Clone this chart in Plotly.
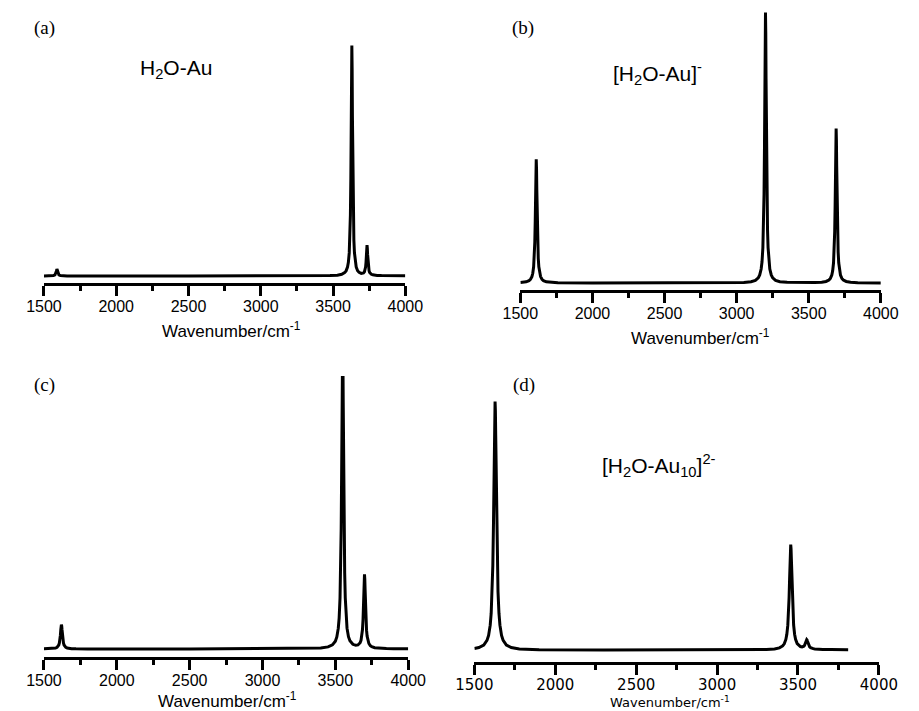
import plotly.graph_objects as go

# ---------------- data ----------------
a_wavenumber = [1500, 1520, 1550, 1566, 1576, 1583, 1586, 1590, 1594, 1597, 1604, 1614, 1630, 1660,
                2500, 3300, 3480, 3530, 3560, 3580, 3590, 3600, 3606, 3612, 3616, 3620, 3623, 3626,
                3628, 3630, 3632, 3634, 3637, 3640, 3644, 3648, 3654, 3660, 3670, 3680, 3695, 3705,
                3711, 3717, 3721, 3725, 3728, 3731, 3733, 3735, 3737, 3739, 3742, 3745, 3749, 3753,
                3759, 3765, 3775, 3785, 3805, 3835, 3885, 4000]
a_intensity = [0.0001, 0.0002, 0.0007, 0.0018, 0.0047, 0.0127, 0.0208, 0.03, 0.0208, 0.0127, 0.0047, 0.0018, 0.0007, 0.0002,
               0.0, 0.0003, 0.0017, 0.0037, 0.0075, 0.0144, 0.0222, 0.0388, 0.0591, 0.1003, 0.155, 0.265, 0.424, 0.692,
               0.9, 1.0, 0.9, 0.692, 0.424, 0.266, 0.156, 0.101, 0.0595, 0.0393, 0.0231, 0.0157, 0.0114, 0.0114,
               0.0132, 0.0178, 0.0246, 0.0387, 0.0592, 0.0942, 0.1213, 0.1343, 0.1211, 0.0938, 0.0585, 0.0376, 0.0231, 0.0157,
               0.0102, 0.0073, 0.005, 0.0039, 0.0027, 0.002, 0.0013, 0.0006]

b_wavenumber = [1500, 1540, 1560, 1570, 1580, 1586, 1592, 1596, 1600, 1603, 1606, 1608, 1610, 1612,
                1614, 1617, 1620, 1624, 1628, 1634, 1640, 1650, 1660, 1680, 1710, 1760, 2000, 2500,
                2900, 3050, 3100, 3130, 3150, 3160, 3170, 3176, 3182, 3186, 3190, 3193, 3196, 3198,
                3200, 3202, 3204, 3207, 3210, 3214, 3218, 3224, 3230, 3240, 3250, 3270, 3300, 3350,
                3450, 3540, 3590, 3620, 3640, 3650, 3660, 3666, 3672, 3676, 3680, 3683, 3686, 3688,
                3690, 3692, 3694, 3697, 3700, 3704, 3708, 3714, 3720, 3730, 3740, 3760, 3790, 3840,
                3920, 4000]
b_intensity = [0.0018, 0.0045, 0.0088, 0.0136, 0.0236, 0.0358, 0.0599, 0.0914, 0.150, 0.2285, 0.3446, 0.4227, 0.457, 0.4227,
               0.3446, 0.2285, 0.150, 0.0914, 0.0599, 0.0358, 0.0236, 0.0136, 0.0088, 0.0045, 0.0022, 0.001, 0.0002, 0.0001,
               0.0005, 0.0022, 0.0049, 0.0099, 0.0192, 0.0297, 0.0516, 0.0784, 0.131, 0.2, 0.329, 0.5, 0.754, 0.925,
               1.0, 0.925, 0.754, 0.5, 0.329, 0.2, 0.131, 0.0784, 0.0516, 0.0297, 0.0192, 0.0099, 0.005, 0.0025,
               0.0013, 0.0017, 0.0031, 0.0057, 0.011, 0.017, 0.0295, 0.0448, 0.0748, 0.1142, 0.1879, 0.2855, 0.4305, 0.5282,
               0.571, 0.5282, 0.4305, 0.2855, 0.1879, 0.1142, 0.0748, 0.0448, 0.0295, 0.017, 0.011, 0.0057, 0.0028, 0.0013,
               0.0005, 0.0003]

c_wavenumber = [1500, 1550, 1570, 1580, 1590, 1596, 1602, 1606, 1610, 1613, 1616, 1618, 1620, 1622,
                1624, 1627, 1630, 1634, 1638, 1644, 1650, 1660, 1670, 1690, 1720, 1800, 2500, 3200,
                3400, 3450, 3480, 3500, 3510, 3520, 3526, 3532, 3536, 3540, 3543, 3546, 3548, 3550,
                3552, 3554, 3557, 3560, 3564, 3568, 3574, 3580, 3590, 3600, 3620, 3640, 3655, 3665,
                3670, 3676, 3682, 3686, 3690, 3693, 3696, 3698, 3700, 3702, 3704, 3707, 3710, 3714,
                3718, 3724, 3730, 3740, 3750, 3770, 3800, 3850, 3900, 4000]
c_intensity = [0.0005, 0.0012, 0.0023, 0.0035, 0.006, 0.0091, 0.015, 0.0224, 0.0355, 0.0515, 0.0728, 0.0856, 0.091, 0.0856,
               0.0728, 0.0515, 0.0355, 0.0224, 0.015, 0.0091, 0.006, 0.0035, 0.0023, 0.0012, 0.0006, 0.0002, 0.0001, 0.0006,
               0.0034, 0.0078, 0.0153, 0.0292, 0.0448, 0.0769, 0.1155, 0.19, 0.283, 0.4485, 0.651, 0.92, 1.082, 1.15,
               1.082, 0.92, 0.651, 0.449, 0.284, 0.191, 0.116, 0.0776, 0.0458, 0.0306, 0.0175, 0.0138, 0.0151, 0.0192,
               0.0234, 0.0321, 0.0496, 0.0717, 0.111, 0.1593, 0.2235, 0.2622, 0.2783, 0.2619, 0.2231, 0.1587, 0.1102, 0.0704,
               0.048, 0.03, 0.0206, 0.0127, 0.0087, 0.005, 0.003, 0.0016, 0.0011, 0.0006]

d_wavenumber = [1500, 1528, 1558, 1578, 1588, 1598, 1604, 1610, 1614, 1618, 1621, 1624, 1626, 1628,
                1630, 1632, 1635, 1638, 1642, 1646, 1652, 1658, 1668, 1678, 1698, 1728, 1778, 1900,
                2300, 2900, 3200, 3305, 3355, 3385, 3405, 3415, 3425, 3431, 3437, 3441, 3445, 3448,
                3451, 3453, 3455, 3457, 3459, 3462, 3465, 3469, 3473, 3479, 3485, 3495, 3505, 3515,
                3525, 3530, 3536, 3540, 3544, 3547, 3550, 3552, 3554, 3556, 3558, 3561, 3564, 3568,
                3572, 3578, 3584, 3594, 3604, 3624, 3654, 3704, 3810]
d_intensity = [0.0061, 0.0099, 0.02, 0.0385, 0.0588, 0.1, 0.148, 0.236, 0.338, 0.5, 0.671, 0.862, 0.962, 1.0,
               0.962, 0.862, 0.671, 0.5, 0.338, 0.236, 0.148, 0.1, 0.0588, 0.0385, 0.02, 0.0099, 0.0044, 0.0013,
               0.0002, 0.0002, 0.0006, 0.0019, 0.0042, 0.0085, 0.0163, 0.0249, 0.0424, 0.0628, 0.1, 0.1433, 0.212, 0.2845,
               0.3655, 0.4079, 0.4244, 0.408, 0.3656, 0.2847, 0.2123, 0.1437, 0.1005, 0.0634, 0.0432, 0.026, 0.0178, 0.0138,
               0.0124, 0.0129, 0.0151, 0.0183, 0.0238, 0.0299, 0.0368, 0.0404, 0.0417, 0.0402, 0.0364, 0.0292, 0.0228, 0.0167,
               0.0127, 0.0093, 0.0073, 0.0055, 0.0044, 0.0032, 0.0023, 0.0016, 0.0009]

tick_values = [1500, 2000, 2500, 3000, 3500, 4000]
tick_labels = ["1500", "2000", "2500", "3000", "3500", "4000"]
panel_letters = ["(a)", "(b)", "(c)", "(d)"]
species = ["H<sub>2</sub>O-Au", "[H<sub>2</sub>O-Au]<sup>-</sup>", None,
           "[H<sub>2</sub>O-Au<sub>10</sub>]<sup>2-</sup>"]
x_title = "Wavenumber/cm<sup>-1</sup>"

# ---------------- layout geometry (pixels) ----------------
W, H = 919, 711
geom = [
    dict(l=26, r=403, B=283, T=20, b0=276, u=230.5),
    dict(l=523, r=899, B=290, T=4, b0=283, u=270.5),
    dict(l=26, r=406, B=657, T=376, b0=649, u=268),
    dict(l=475, r=897, B=662, T=380, b0=650, u=248.5),
]
datasets = [(a_wavenumber, a_intensity), (b_wavenumber, b_intensity),
            (c_wavenumber, c_intensity), (d_wavenumber, d_intensity)]

fig = go.Figure()
for i, ((xs, ys), g) in enumerate(zip(datasets, geom)):
    n = "" if i == 0 else str(i + 1)
    fig.add_trace(go.Scatter(x=xs, y=ys, mode="lines",
                             line=dict(color="black", width=3),
                             xaxis="x" + n, yaxis="y" + n, showlegend=False,
                             hoverinfo="skip"))
    tickfont = dict(family="Liberation Sans, Arial", size=16, color="black")
    if i == 3:
        tickfont = dict(family="DejaVu Sans", size=15, color="black")
    fig.layout["xaxis" + n] = dict(
        domain=[g["l"] / W, g["r"] / W], anchor="y" + n,
        range=[1500, 4000], showgrid=False, zeroline=False,
        showline=True, linecolor="black", linewidth=3,
        ticks="outside", ticklen=10, tickwidth=3, tickcolor="black",
        ticklabelstandoff=-3,
        tickvals=tick_values, ticktext=tick_labels, tickfont=tickfont,
        minor=dict(dtick=250, tick0=1500, ticks="outside", ticklen=5,
                   tickwidth=3, tickcolor="black"),
        fixedrange=True,
    )
    fig.layout["yaxis" + n] = dict(
        domain=[1 - g["B"] / H, 1 - g["T"] / H], anchor="x" + n,
        range=[-(g["B"] - g["b0"]) / g["u"], (g["b0"] - g["T"]) / g["u"]],
        visible=False, fixedrange=True,
    )

annotations = []
letter_pos = [(14, 28), (512, 28), (14, 385), (513, 385)]
for txt, (px, py) in zip(panel_letters, letter_pos):
    annotations.append(dict(text=txt, x=px / W, y=1 - py / H, xref="paper", yref="paper",
                            xanchor="left", yanchor="middle", showarrow=False,
                            font=dict(family="Liberation Serif, Times New Roman", size=19, color="black")))
species_pos = [(164, 69), (666, 74), None, (668, 465)]
for txt, pos in zip(species, species_pos):
    if txt is None:
        continue
    annotations.append(dict(text=txt, x=pos[0] / W, y=1 - pos[1] / H, xref="paper", yref="paper",
                            xanchor="center", yanchor="middle", showarrow=False,
                            font=dict(family="Liberation Sans, Arial", size=21, color="black")))
title_pos = [(222, 330, "Liberation Sans, Arial", 17), (711, 337, "Liberation Sans, Arial", 17),
             (217, 700, "Liberation Sans, Arial", 17), (679, 702, "DejaVu Sans", 13)]
for (px, py, fam, sz) in title_pos:
    annotations.append(dict(text=x_title, x=px / W, y=1 - py / H, xref="paper", yref="paper",
                            xanchor="center", yanchor="middle", showarrow=False,
                            font=dict(family=fam, size=sz, color="black")))

fig.update_layout(width=W, height=H, autosize=False,
                  margin=dict(l=0, r=0, t=0, b=0),
                  paper_bgcolor="white", plot_bgcolor="white",
                  annotations=annotations)

# remove the browser's default page margin so the figure fills the window exactly
fig.write_html("out.html",
               config={"displayModeBar": False, "staticPlot": True},
               post_script="document.body.style.margin='0px';"
                           "document.body.style.overflow='hidden';")
